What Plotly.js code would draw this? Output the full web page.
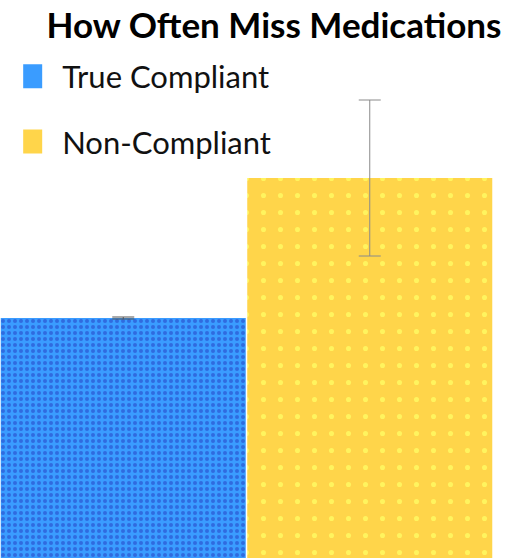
<!DOCTYPE html>
<html>
<head>
<meta charset="utf-8">
<script src="https://cdn.plot.ly/plotly-3.0.1.min.js"></script>
<style>
  body { margin: 0; background: #fff; }
  #chart { width: 520px; height: 558px; }
</style>
</head>
<body>
<div id="chart"></div>
<script>
// groups and the mean value for each one
var groups = ["True Compliant", "Non-Compliant"];
var missValues = [2.4, 3.8];
var missErrors = [0.01, 0.78];

var barColors = ["#3a9cff", "#ffd54a"];
var dotColors = ["#2f6be0", "#fff45e"];

var traces = groups.map(function (g, i) {
    return {
        type: "bar",
        name: g,
        legendgroup: g,
        x: [g],
        y: [missValues[i]],
        error_y: {
            type: "data",
            array: [missErrors[i]],
            color: i == 0 ? "#555" : "#8a8a8a",
            thickness: 1,
            width: 11
        },
        marker: {
            color: barColors[i],
            line: { width: 0 },
            pattern: {
                shape: ".",
                bgcolor: barColors[i],
                fgcolor: dotColors[i],
                size: i == 0 ? 6 : 17,
                solidity: i == 0 ? 0.35 : 0.07
            }
        },
        hoverinfo: "x+y"
    };
});

var layout = {
    width: 520,
    height: 558,
    margin: { l: 0, r: 27, t: 0, b: 0 },
    paper_bgcolor: "#fff",
    plot_bgcolor: "#fff",
    barmode: "overlay",
    bargap: 0.006,
    showlegend: true,
    title: {
        text: "<b>How Often Miss Medications</b>",
        font: { family: "Lato", size: 35, color: "#000" },
        x: 0.527,
        xanchor: "center",
        xref: "container",
        y: 0.976,
        yanchor: "top",
        yref: "container"
    },
    legend: {
        x: 0.045,
        xanchor: "left",
        y: 0.911,
        yanchor: "top",
        font: { family: "Lato", size: 31, color: "#111" },
        bgcolor: "rgba(0,0,0,0)",
        traceorder: "grouped",
        tracegroupgap: 22,
        itemwidth: 30
    },
    xaxis: {
        type: "category",
        visible: false,
        fixedrange: true
    },
    yaxis: {
        range: [0, 5.58],
        visible: false,
        fixedrange: true
    }
};

Plotly.newPlot("chart", traces, layout, { displayModeBar: false, staticPlot: true }).then(function () {
    // bigger, plain legend swatches like the original
    document.querySelectorAll(".legendpoints path").forEach(function (p, i) {
        p.setAttribute("d", "M0,12H-19V-12H0Z");
        p.style.fill = barColors[i];
    });
});
</script>
</body>
</html>
